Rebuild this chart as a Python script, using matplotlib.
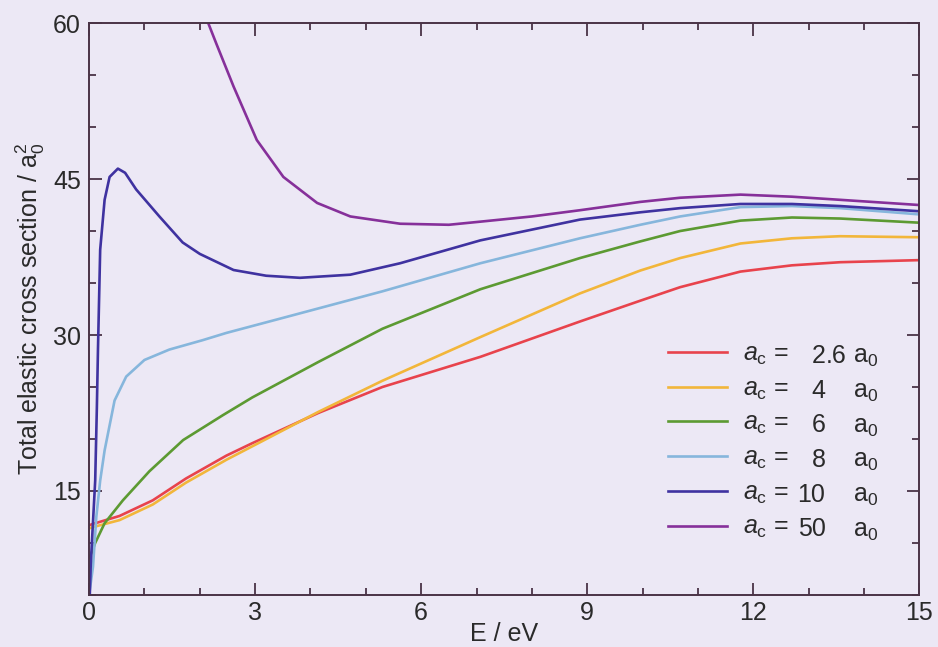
import matplotlib
matplotlib.use('Agg')
import matplotlib.pyplot as plt
from matplotlib.transforms import IdentityTransform

plt.rcParams['font.family'] = ['Liberation Sans', 'DejaVu Sans']
plt.rcParams['mathtext.fontset'] = 'custom'
plt.rcParams['mathtext.rm'] = 'Liberation Sans'
plt.rcParams['mathtext.it'] = 'Liberation Sans:italic'

# energies (eV) and cross sections (a0^2)
E_26 = [0.0, 0.05, 0.55, 1.15, 1.75, 2.48, 2.95, 4.14, 5.3, 7.07, 8.87, 9.96, 10.68, 11.77, 12.7, 13.57, 15.0]
s_26 = [11.7, 11.8, 12.6, 14.1, 16.2, 18.4, 19.6, 22.5, 25.0, 27.9, 31.3, 33.3, 34.6, 36.1, 36.7, 37.0, 37.2]

E_4 = [0.0, 0.05, 0.55, 1.15, 1.75, 2.48, 2.95, 4.14, 5.3, 7.07, 8.87, 9.96, 10.68, 11.77, 12.7, 13.57, 15.0]
s_4 = [11.4, 11.5, 12.2, 13.7, 15.8, 18.0, 19.3, 22.6, 25.6, 29.8, 34.0, 36.2, 37.4, 38.8, 39.3, 39.5, 39.4]

E_6 = [0.0, 0.04, 0.11, 0.28, 0.61, 1.09, 1.7, 2.42, 2.95, 4.14, 5.3, 7.07, 8.87, 9.96, 10.68, 11.77,
       12.7, 13.57, 15.0]
s_6 = [8.6, 9.0, 10.0, 11.9, 14.1, 16.9, 19.9, 22.3, 24.0, 27.4, 30.6, 34.4, 37.4, 39.0, 40.0, 41.0,
       41.3, 41.2, 40.8]

E_8 = [0.0, 0.07, 0.13, 0.2, 0.28, 0.46, 0.67, 1.0, 1.45, 2.05, 2.48, 3.54, 5.3, 7.07, 8.87, 9.96,
       10.68, 11.77, 12.7, 13.57, 15.0]
s_8 = [5.0, 7.7, 12.5, 16.0, 18.9, 23.7, 26.0, 27.6, 28.6, 29.5, 30.2, 31.7, 34.2, 36.9, 39.3, 40.6,
       41.4, 42.3, 42.4, 42.2, 41.6]

E_10 = [0.0, 0.03, 0.07, 0.11, 0.14, 0.16, 0.2, 0.28, 0.37, 0.52, 0.65, 0.85, 1.27, 1.69, 2.0, 2.61,
        3.2, 3.81, 4.72, 5.62, 7.07, 8.87, 9.96, 10.68, 11.77, 12.7, 13.57, 15.0]
s_10 = [3.0, 8.0, 12.0, 16.0, 23.0, 28.6, 38.2, 43.0, 45.2, 46.0, 45.6, 44.0, 41.4, 38.9, 37.8, 36.25,
        35.7, 35.5, 35.8, 36.9, 39.1, 41.1, 41.8, 42.2, 42.6, 42.6, 42.4, 41.9]

E_50 = [1.6, 1.9, 2.13, 2.3, 2.61, 3.03, 3.51, 4.12, 4.72, 5.62, 6.5, 7.07, 8.0, 8.87, 9.96, 10.68,
        11.77, 12.7, 13.57, 15.0]
s_50 = [69.0, 64.0, 60.3, 58.0, 53.9, 48.75, 45.2, 42.7, 41.4, 40.7, 40.6, 40.9, 41.4, 42.0, 42.8, 43.2,
        43.5, 43.3, 43.0, 42.5]

series = [(E_26, s_26, '2', '.6', '#e8434c'),
          (E_4, s_4, '4', '', '#f2b63a'),
          (E_6, s_6, '6', '', '#5c9a32'),
          (E_8, s_8, '8', '', '#86b6dc'),
          (E_10, s_10, '10', '', '#3f32a0'),
          (E_50, s_50, '50', '', '#86309a')]

bg = '#ece8f5'
ink = '#4a3346'
txtc = '#2a2a2a'
fs = 18
fig = plt.figure(figsize=(9.38, 6.47), dpi=100, facecolor=bg)
ax = fig.add_axes([0.095, 0.0804, 0.885, 0.884], facecolor=bg)

handles = []
for E, s, ip, fp, c in series:
    h, = ax.plot(E, s, color=c, lw=1.9, solid_joinstyle='round')
    handles.append(h)

ax.set_xlim(0, 15)
ax.set_ylim(5, 60)
ax.set_xticks([0, 3, 6, 9, 12, 15])
ax.set_xticks(range(0, 16), minor=True)
ax.set_yticks([15, 30, 45, 60])
ax.set_yticks(range(5, 61, 5), minor=True)
ax.tick_params(which='both', direction='in', top=True, right=True, color=ink, width=1.3,
               labelsize=fs, labelcolor=txtc, pad=6)
ax.tick_params(axis='x', which='both', pad=4)
ax.tick_params(which='major', length=9)
ax.tick_params(which='minor', length=5)
for sp in ax.spines.values():
    sp.set_color(ink)
    sp.set_linewidth(1.4)

ax.set_xlabel('E / eV', fontsize=fs, color=txtc, labelpad=-2)
ax.set_ylabel('Total elastic cross section / a$_0^2$', fontsize=fs, color=txtc, labelpad=4)

leg = ax.legend(handles, [r'$a_\mathrm{c}$ =' for _ in series], loc='lower left',
                bbox_to_anchor=(0.670, 0.056), frameon=False, fontsize=fs,
                handlelength=2.35, handletextpad=0.65, labelspacing=0.38, borderpad=0.4)
for t in leg.get_texts():
    t.set_color(txtc)

fig.canvas.draw()
for t, (E, s, ip, fp, c) in zip(leg.get_texts(), series):
    bb = t.get_window_extent()
    y = bb.y0 + 4
    xi = bb.x1 + 37
    ax.text(xi, y, ip, transform=IdentityTransform(), ha='right', va='baseline',
            fontsize=fs, color=txtc)
    if fp:
        ax.text(xi, y, fp, transform=IdentityTransform(), ha='left', va='baseline',
                fontsize=fs, color=txtc)
    ax.text(xi + 28, y, 'a$_0$', transform=IdentityTransform(), ha='left', va='baseline',
            fontsize=fs, color=txtc)

fig.savefig('out.png', dpi=100, facecolor=bg)
